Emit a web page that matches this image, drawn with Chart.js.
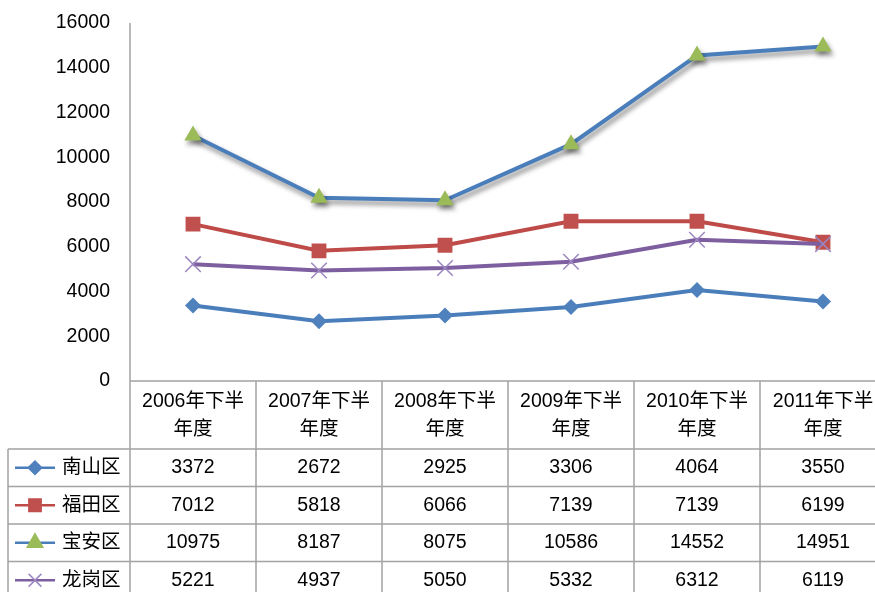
<!DOCTYPE html>
<html lang="zh">
<head>
  <meta charset="UTF-8" />
  <title>深圳各区</title>
  <script src="https://cdn.jsdelivr.net/npm/chart.js"></script>
  <style>
    html, body { margin: 0; padding: 0; background: #fff; overflow: hidden; }
    #wrap { width: 890px; height: 592px; position: relative; }
  </style>
</head>
<body>
  <div id="wrap"><canvas id="lineChart"></canvas></div>

  <script>
    // 数据
    const categories = ['2006年下半年度', '2007年下半年度', '2008年下半年度', '2009年下半年度', '2010年下半年度', '2011年下半年度'];
    const nanshan = [3372, 2672, 2925, 3306, 4064, 3550];
    const futian = [7012, 5818, 6066, 7139, 7139, 6199];
    const baoan = [10975, 8187, 8075, 10586, 14552, 14951];
    const longgang = [5221, 4937, 5050, 5332, 6312, 6119];
    const yTicks = [0, 2000, 4000, 6000, 8000, 10000, 12000, 14000, 16000];

    const FONT = "19.5px 'Liberation Sans', 'Noto Sans CJK SC'";
    const GRID = '#a3a3a3';

    const series = [
      { label: '南山区', data: nanshan, line: '#4a7ebb', fill: '#4f81bd', style: 'rectRot', r: 8, lr: 6, order: 4 },
      { label: '福田区', data: futian, line: '#be4b48', fill: '#c0504d', style: 'rect', r: 10.5, lr: 8, order: 3 },
      { label: '宝安区', data: baoan, line: '#4a7ebb', fill: '#9bbb59', style: 'triangle', r: 10, lr: 8, order: 2 },
      { label: '龙岗区', data: longgang, line: '#7d5fa0', fill: '#9d87c0', style: 'crossRot', r: 11, lr: 9, order: 1 }
    ];

    // 阴影（宝安区）
    const shadowPlugin = {
      id: 'shadow',
      beforeDatasetDraw(chart, args) {
        if (args.index !== 2) return;
        const ctx = chart.ctx;
        ctx.save();
        ctx.shadowColor = 'rgba(0,0,0,0.45)';
        ctx.shadowBlur = 5;
        ctx.shadowOffsetX = 2;
        ctx.shadowOffsetY = 4;
      },
      afterDatasetDraw(chart, args) {
        if (args.index === 2) chart.ctx.restore();
      }
    };

    // 数据表
    const tablePlugin = {
      id: 'dataTable',
      afterDraw(chart) {
        const { ctx, chartArea } = chart;
        const x = chart.scales.x;
        const half = (x.getPixelForValue(1) - x.getPixelForValue(0)) / 2;
        const top = chartArea.bottom;
        const headH = 68, rowH = 37.5, leftX = 8;
        const rowsTop = top + headH;
        const bottom = rowsTop + rowH * series.length;

        ctx.save();
        ctx.strokeStyle = GRID;
        ctx.lineWidth = 1.5;
        ctx.beginPath();
        // y 轴及表格竖线
        ctx.moveTo(chartArea.left, chartArea.top);
        ctx.lineTo(chartArea.left, bottom);
        categories.forEach((c, i) => {
          const xr = x.getPixelForValue(i) + half;
          ctx.moveTo(xr, top);
          ctx.lineTo(xr, bottom);
        });
        ctx.moveTo(leftX, rowsTop);
        ctx.lineTo(leftX, bottom);
        // 横线
        ctx.moveTo(chartArea.left, top);
        ctx.lineTo(chart.width, top);
        for (let k = 0; k <= series.length; k++) {
          const yy = rowsTop + k * rowH;
          ctx.moveTo(leftX, yy);
          ctx.lineTo(chart.width, yy);
        }
        ctx.stroke();

        ctx.fillStyle = '#000';
        ctx.font = FONT;
        ctx.textAlign = 'center';
        ctx.textBaseline = 'middle';
        categories.forEach((c, i) => {
          const cx = x.getPixelForValue(i);
          ctx.fillText(c.slice(0, 7), cx, top + 21);
          ctx.fillText(c.slice(7), cx, top + 49);
        });

        series.forEach((s, k) => {
          const cy = rowsTop + k * rowH + rowH / 2;
          ctx.fillStyle = '#000';
          ctx.textAlign = 'center';
          s.data.forEach((v, i) => {
            ctx.fillText(String(v), x.getPixelForValue(i), cy);
          });
          ctx.textAlign = 'left';
          ctx.fillText(s.label, 62, cy);
          // 图例
          ctx.strokeStyle = s.line;
          ctx.lineWidth = 2.5;
          ctx.beginPath();
          ctx.moveTo(15, cy);
          ctx.lineTo(55, cy);
          ctx.stroke();
          ctx.fillStyle = s.fill;
          ctx.strokeStyle = s.fill;
          ctx.lineWidth = s.style === 'crossRot' ? 1.5 : 0;
          Chart.helpers.drawPoint(ctx, { pointStyle: s.style, radius: s.lr, rotation: 0, borderWidth: ctx.lineWidth }, 35, cy);
        });
        ctx.restore();
      }
    };

    const ctx = document.getElementById('lineChart').getContext('2d');
    const chart = new Chart(ctx, {
      type: 'line',
      data: {
        labels: categories,
        datasets: series.map(s => ({
          label: s.label,
          data: s.data,
          order: s.order,
          borderColor: s.line,
          borderWidth: 4,
          tension: 0,
          pointStyle: s.style,
          pointRadius: s.r,
          pointBackgroundColor: s.fill,
          pointBorderColor: s.fill,
          pointBorderWidth: s.style === 'crossRot' ? 1.5 : 0
        }))
      },
      options: {
        responsive: true,
        maintainAspectRatio: false,
        animation: false,
        layout: { autoPadding: false, padding: { top: 23, bottom: 211, left: 0, right: 4 } },
        plugins: {
          legend: { display: false },
          tooltip: { enabled: false }
        },
        scales: {
          x: { display: false, offset: true },
          y: {
            min: 0,
            max: 16000,
            afterBuildTicks: s => { s.ticks = yTicks.map(v => ({ value: v })); },
            afterFit: s => { s.width = 130; s.paddingTop = 0; s.paddingBottom = 0; },
            grid: { display: false, drawTicks: false },
            border: { display: false },
            ticks: {
              color: '#000',
              padding: 20,
              font: { family: "'Liberation Sans', 'Noto Sans CJK SC'", size: 19.5 },
              callback: v => String(v)
            }
          }
        }
      },
      plugins: [shadowPlugin, tablePlugin]
    });
  </script>
</body>
</html>
